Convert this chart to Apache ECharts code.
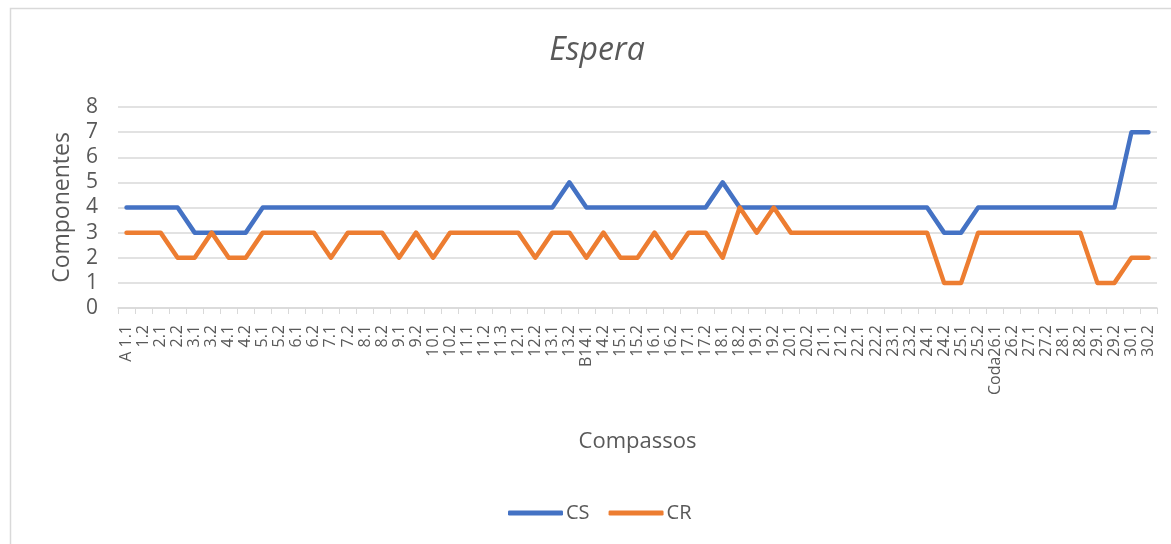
<!DOCTYPE html>
<html>
<head>
<meta charset="utf-8">
<script src="https://cdn.jsdelivr.net/npm/echarts@6/dist/echarts.min.js"></script>
<style>
  html, body { margin: 0; padding: 0; background: #fff; }
  #chart { width: 1171px; height: 544px; }
</style>
</head>
<body>
<div id="chart"></div>
<script>
// Measures (compassos) along the x axis
const compassos = [
  'A 1.1', '1.2', '2.1', '2.2', '3.1', '3.2', '4.1', '4.2', '5.1', '5.2',
  '6.1', '6.2', '7.1', '7.2', '8.1', '8.2', '9.1', '9.2', '10.1', '10.2',
  '11.1', '11.2', '11.3', '12.1', '12.2', '13.1', '13.2', 'B14.1', '14.2', '15.1',
  '15.2', '16.1', '16.2', '17.1', '17.2', '18.1', '18.2', '19.1', '19.2', '20.1',
  '20.2', '21.1', '21.2', '22.1', '22.2', '23.1', '23.2', '24.1', '24.2', '25.1',
  '25.2', 'Coda26.1', '26.2', '27.1', '27.2', '28.1', '28.2', '29.1', '29.2', '30.1',
  '30.2'
];

// Number of components per measure
const cs = [
  4, 4, 4, 4, 3, 3, 3, 3, 4, 4,
  4, 4, 4, 4, 4, 4, 4, 4, 4, 4,
  4, 4, 4, 4, 4, 4, 5, 4, 4, 4,
  4, 4, 4, 4, 4, 5, 4, 4, 4, 4,
  4, 4, 4, 4, 4, 4, 4, 4, 3, 3,
  4, 4, 4, 4, 4, 4, 4, 4, 4, 7,
  7
];
const cr = [
  3, 3, 3, 2, 2, 3, 2, 2, 3, 3,
  3, 3, 2, 3, 3, 3, 2, 3, 2, 3,
  3, 3, 3, 3, 2, 3, 3, 2, 3, 2,
  2, 3, 2, 3, 3, 2, 4, 3, 4, 3,
  3, 3, 3, 3, 3, 3, 3, 3, 1, 1,
  3, 3, 3, 3, 3, 3, 3, 1, 1, 2,
  2
];
const yTicks = [0, 1, 2, 3, 4, 5, 6, 7, 8];

const textColor = '#595959';
const gridColor = '#d9d9d9';
const font = 'Open Sans, Liberation Sans, sans-serif';

const chart = echarts.init(document.getElementById('chart'));
chart.setOption({
  backgroundColor: '#fff',
  animation: false,
  graphic: [{
    type: 'rect',
    shape: { x: 10.5, y: 8.5, width: 1170, height: 545 },
    style: { fill: 'none', stroke: '#d9d9d9', lineWidth: 1.5 },
    silent: true
  }],
  title: {
    text: 'Espera',
    left: 592,
    textAlign: 'center',
    top: 30,
    textStyle: { fontFamily: font, fontStyle: 'italic', fontWeight: 'normal', fontSize: 32, color: textColor }
  },
  legend: {
    bottom: 16,
    left: 503,
    itemWidth: 55,
    itemHeight: 5,
    itemGap: 19,
    icon: 'roundRect',
    textStyle: { fontFamily: font, fontSize: 20, color: textColor, padding: [0, 0, 0, -2] },
    data: ['CS', 'CR']
  },
  grid: { left: 118, right: 14, top: 107, height: 201 },
  xAxis: {
    type: 'category',
    data: compassos,
    boundaryGap: true,
    name: 'Compassos',
    nameLocation: 'middle',
    nameGap: 123,
    nameTextStyle: { fontFamily: font, fontSize: 22, color: textColor },
    axisLine: { lineStyle: { color: gridColor, width: 1.5 } },
    axisTick: { show: true, length: 6, alignWithLabel: false, lineStyle: { color: gridColor } },
    axisLabel: {
      interval: 0,
      rotate: 90,
      fontFamily: font,
      fontSize: 16,
      color: textColor,
      margin: 17
    }
  },
  yAxis: {
    type: 'value',
    min: yTicks[0],
    max: yTicks[yTicks.length - 1],
    interval: 1,
    name: 'Componentes',
    nameLocation: 'middle',
    nameGap: 44,
    nameTextStyle: { fontFamily: font, fontSize: 23, color: textColor },
    axisLine: { show: false },
    axisTick: { show: false },
    axisLabel: { fontFamily: font, fontSize: 21, color: textColor, margin: 20 },
    splitLine: { lineStyle: { color: gridColor, width: 1.5 } }
  },
  series: [
    {
      name: 'CS',
      type: 'line',
      data: cs,
      showSymbol: false,
      symbol: 'none',
      lineStyle: { color: '#4472c4', width: 4.5, cap: 'round', join: 'round' },
      itemStyle: { color: '#4472c4' },
      z: 3
    },
    {
      name: 'CR',
      type: 'line',
      data: cr,
      showSymbol: false,
      symbol: 'none',
      lineStyle: { color: '#ed7d31', width: 4.5, cap: 'round', join: 'round' },
      itemStyle: { color: '#ed7d31' },
      z: 4
    }
  ]
});
</script>
</body>
</html>
